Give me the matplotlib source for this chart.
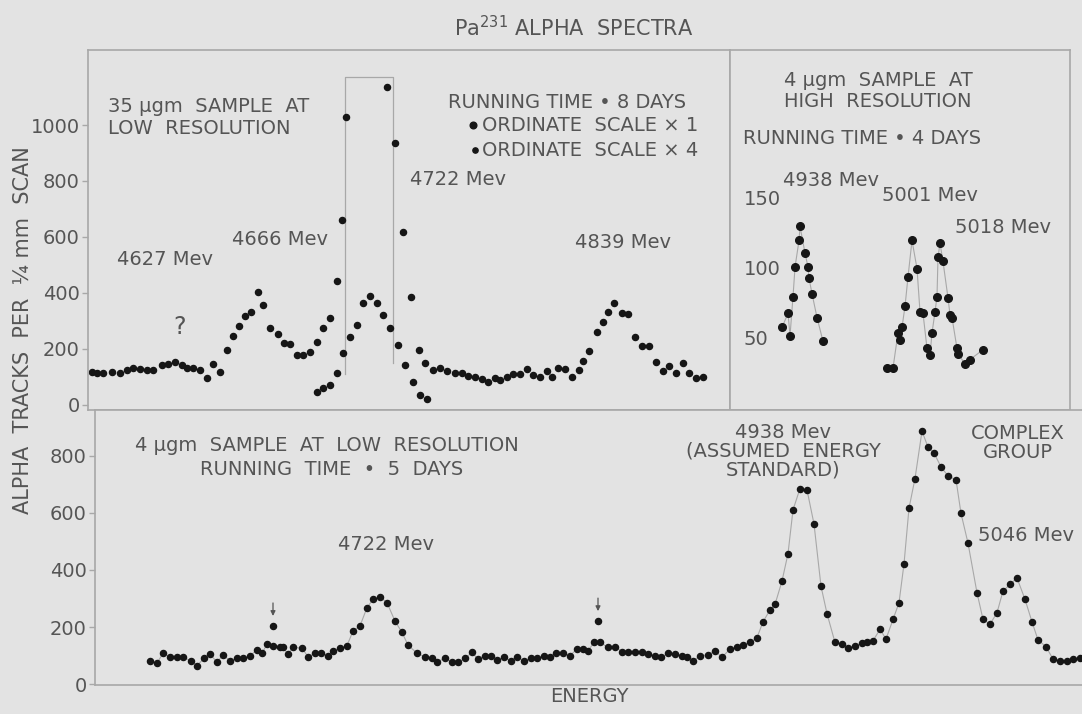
import numpy as np
import matplotlib.pyplot as plt

# --- top left: 35 ugm sample, low resolution (energy channel, tracks)
tl_x = [0.2, 0.7, 1.3, 2.2, 3.0, 3.7, 4.3, 5.0, 5.7, 6.3, 7.2, 7.8, 8.5, 9.2, 9.7,
        10.3, 11.0, 11.7, 12.3, 13.0, 13.7, 14.3, 14.9, 15.5, 16.1, 16.8, 17.3, 18.0,
        18.8, 19.4, 20.0, 20.7, 21.3, 22.0, 22.7, 23.3, 24.0, 24.7, 25.2, 25.6, 29.7,
        30.5, 31.3, 32.1, 32.9, 33.5, 34.3, 35.0, 35.7, 36.5, 37.2, 37.8, 38.5, 39.2,
        39.8, 40.5, 41.0, 41.7, 42.3, 43.0, 43.7, 44.3, 45.0, 45.7, 46.2, 46.8, 47.5,
        48.2, 48.9, 49.3, 49.9, 50.7, 51.3, 51.8, 52.4, 53.2, 53.8, 54.5, 55.2, 55.9,
        56.6, 57.3, 57.9, 58.6, 59.3, 59.9, 60.6, 61.3]
tl_y = [117, 113, 114, 118, 114, 125, 133, 129, 125, 125, 143, 145, 152, 143, 133,
        133, 125, 98, 145, 117, 196, 248, 283, 319, 333, 405, 357, 276,
        252, 220, 217, 179, 179, 190, 226, 276, 312, 443, 661, 1030, 1137,
        934, 617, 387, 196, 149, 125, 131, 121, 113, 113, 105, 101, 93,
        83, 95, 89, 101, 110, 110, 129, 107, 101, 121, 101, 131, 127,
        99, 125, 157, 193, 262, 297, 333, 363, 327, 324, 244, 212, 212,
        152, 121, 140, 113, 149, 115, 98, 101]
# same 4722 peak on the second ordinate scale
tl4_x = [22.7, 23.3, 24.0, 24.7, 25.3, 26.0, 26.7, 27.3, 28.0, 28.7, 29.3, 30.0,
         30.8, 31.5, 32.3, 33.0, 33.7]
tl4_y = [48, 60, 71, 113, 185, 244, 286, 363, 389, 363, 321, 274, 214, 143, 83, 36, 20]
tl_box_x = [25.5, 25.5, 30.3, 30.3]
tl_box_y = [110, 1171, 1171, 150]

# --- top right: 4 ugm sample, high resolution
tr1_x = [5.2, 5.8, 6.0, 6.3, 6.5, 6.9, 7.0, 7.5, 7.8, 7.9, 8.2, 8.7, 9.3]
tr1_y = [57, 67, 51, 79, 100, 119, 129, 110, 100, 92, 81, 64, 47]
tr2_x = [15.7, 16.3, 16.8, 17.0, 17.2, 17.5, 17.8, 18.2, 18.7, 19.0, 19.3, 19.7,
         20.0, 20.2, 20.5, 20.7, 20.8, 21.0, 21.3, 21.8, 22.0, 22.2, 22.7, 22.8,
         23.5, 24.0, 25.3]
tr2_y = [28, 28, 53, 48, 57, 72, 93, 119, 99, 68, 67, 42, 37, 53, 68, 79, 107, 117,
         104, 78, 66, 64, 42, 38, 31, 34, 41]

# --- bottom: 4 ugm sample, low resolution
bt_x = [5.5, 6.2, 6.8, 7.5, 8.2, 8.8, 9.6, 10.2, 10.9, 11.5, 12.2, 12.8, 13.5, 14.2,
        14.8, 15.5, 16.2, 16.7, 17.2, 17.8, 18.5, 18.8, 19.3, 19.8, 20.7, 21.3, 22.0,
        22.6, 23.3, 23.8, 24.5, 25.2, 25.8, 26.5, 27.2, 27.8, 28.5, 29.2, 30.0, 30.7,
        31.3, 32.2, 33.0, 33.7, 34.2, 35.0, 35.7, 36.3, 37.0, 37.7, 38.3, 39.0, 39.6,
        40.2, 40.9, 41.6, 42.2, 42.9, 43.6, 44.2, 44.9, 45.5, 46.1, 46.8, 47.5, 48.2,
        48.8, 49.3, 49.9, 50.5, 51.3, 52.0, 52.7, 53.3, 54.0, 54.7, 55.3, 56.0, 56.6,
        57.3, 58.0, 58.7, 59.2, 59.8, 60.5, 61.3, 62.0, 62.7, 63.5, 64.2, 64.8, 65.5,
        66.2, 66.8, 67.5, 68.0, 68.7, 69.3, 69.8, 70.5, 71.2, 71.9, 72.6, 73.2, 74.0,
        74.7, 75.3, 76.0, 76.7, 77.2, 77.8, 78.5, 79.1, 79.8, 80.4, 80.9, 81.4, 82.0,
        82.7, 83.3, 83.9, 84.6, 85.3, 86.1, 86.6, 87.3, 88.2, 88.8, 89.5, 90.2, 90.8,
        91.5, 92.2, 93.0, 93.7, 94.3, 95.1, 95.8, 96.5, 97.2, 97.8, 98.5]
bt_y = [82, 74, 108, 96, 94, 94, 82, 65, 90, 105, 77, 102, 82, 90,
        90, 100, 119, 108, 140, 135, 131, 129, 105, 129, 126, 96, 108,
        108, 100, 117, 126, 135, 186, 204, 268, 297, 306, 285, 221, 181,
        137, 108, 96, 90, 79, 90, 79, 77, 90, 111, 88, 100, 100,
        85, 94, 82, 96, 82, 90, 90, 100, 96, 108, 108, 100, 123,
        123, 117, 146, 146, 129, 131, 114, 114, 114, 111, 105, 100, 94,
        108, 105, 100, 96, 80, 100, 102, 117, 94, 123, 131, 137, 146,
        163, 218, 260, 279, 361, 457, 610, 685, 680, 561, 343, 247, 146,
        140, 126, 135, 143, 148, 152, 192, 158, 227, 285, 421, 616, 720,
        886, 830, 809, 761, 729, 716, 598, 494, 320, 227, 210, 250, 326,
        349, 372, 297, 218, 155, 131, 88, 82, 82, 88, 90]
# points marked with arrows
bt_mark_x = [17.8, 50.3]
bt_mark_y = [204, 221]

bg = '#e3e3e3'
ink = '#161616'
txt = '#555555'
frame = '#a8a8a8'
fs = 14

plt.rcParams['font.family'] = ['DejaVu Sans']
fig = plt.figure(figsize=(10.82, 7.14), dpi=100, facecolor=bg)

ax1 = fig.add_axes([0.0813, 0.4258, 0.5934, 0.5042], facecolor=bg)
ax2 = fig.add_axes([0.6747, 0.4258, 0.3142, 0.5042], facecolor=bg)
ax3 = fig.add_axes([0.0878, 0.0406, 0.9122, 0.3852], facecolor=bg)

for ax in (ax1, ax2, ax3):
    for s in ax.spines.values():
        s.set_color(frame)
        s.set_linewidth(1.2)
    ax.set_xticks([])
    ax.tick_params(axis='y', colors=frame, labelcolor=txt, labelsize=fs, length=4,
                   width=1, pad=2)
ax3.spines['right'].set_visible(False)

# top left
ax1.set_xlim(-0.2, 64)
ax1.set_ylim(-18, 1268)
ax1.set_yticks([0, 200, 400, 600, 800, 1000])
ax1.plot(tl_box_x, tl_box_y, color=frame, lw=0.9)
ax1.plot(tl_x, tl_y, 'o', color=ink, ms=4.4)
ax1.plot(tl4_x, tl4_y, 'o', color=ink, ms=4.4)
ax1.text(1.8, 1100, '35 \u03bcgm  SAMPLE  AT\nLOW  RESOLUTION', color=txt, fontsize=fs,
         va='top', linespacing=1.2)
ax1.text(2.7, 500, '4627 Mev', color=txt, fontsize=fs)
ax1.text(14.2, 570, '4666 Mev', color=txt, fontsize=fs)
ax1.text(8.3, 255, '?', color=txt, fontsize=fs + 3)
ax1.text(32.0, 785, '4722 Mev', color=txt, fontsize=fs)
ax1.text(48.5, 560, '4839 Mev', color=txt, fontsize=fs)
ax1.text(35.8, 1080, 'RUNNING TIME \u2022 8 DAYS', color=txt, fontsize=fs, va='center')
ax1.plot([38.3], [1000], 'o', color=ink, ms=4.8)
ax1.plot([38.5], [910], 'o', color=ink, ms=3.8)
ax1.text(39.2, 1000, 'ORDINATE  SCALE \u00d7 1', color=txt, fontsize=fs, va='center')
ax1.text(39.2, 910, 'ORDINATE  SCALE \u00d7 4', color=txt, fontsize=fs, va='center')

# top right
ax2.set_xlim(0, 34)
ax2.set_ylim(-2, 255)
ax2.set_yticks([50, 100, 150])
ax2.tick_params(axis='y', length=0, pad=-10)
for lab in ax2.get_yticklabels():
    lab.set_ha('left')
ax2.plot(tr1_x, tr1_y, '-', color=frame, lw=0.8)
ax2.plot(tr2_x, tr2_y, '-', color=frame, lw=0.8)
ax2.plot(tr1_x, tr1_y, 'o', color=ink, ms=5.5)
ax2.plot(tr2_x, tr2_y, 'o', color=ink, ms=5.5)
ax2.text(14.8, 240, '4 \u03bcgm  SAMPLE  AT\nHIGH  RESOLUTION', color=txt, fontsize=fs,
         ha='center', va='top', linespacing=1.15)
ax2.text(1.3, 192, 'RUNNING TIME \u2022 4 DAYS', color=txt, fontsize=fs, va='center')
ax2.text(5.3, 162, '4938 Mev', color=txt, fontsize=fs, va='center')
ax2.text(15.2, 151, '5001 Mev', color=txt, fontsize=fs, va='center')
ax2.text(22.5, 128, '5018 Mev', color=txt, fontsize=fs, va='center')

# bottom
ax3.set_xlim(0, 98.7)
ax3.set_ylim(-3, 960)
ax3.set_yticks([0, 200, 400, 600, 800])
ax3.plot(bt_x, bt_y, '-', color=frame, lw=0.8)
ax3.plot(bt_x, bt_y, 'o', color=ink, ms=4.4)
ax3.plot(bt_mark_x, bt_mark_y, 'o', color=ink, ms=4.4)
for mx, my in zip(bt_mark_x, bt_mark_y):
    ax3.annotate('', xy=(mx, my + 25), xytext=(mx, my + 90),
                 arrowprops=dict(arrowstyle='-|>', color=txt, lw=0.9, mutation_scale=7))
ax3.text(4.0, 835, '4 \u03bcgm  SAMPLE  AT  LOW  RESOLUTION', color=txt, fontsize=fs, va='center')
ax3.text(10.5, 750, 'RUNNING  TIME  \u2022  5  DAYS', color=txt, fontsize=fs, va='center')
ax3.text(24.3, 490, '4722 Mev', color=txt, fontsize=fs, va='center')
ax3.text(68.8, 815, '4938 Mev\n(ASSUMED  ENERGY\nSTANDARD)', color=txt, fontsize=fs,
         ha='center', va='center', linespacing=1.0)
ax3.text(92.3, 843, 'COMPLEX\nGROUP', color=txt, fontsize=fs, ha='center', va='center',
         linespacing=1.0)
ax3.text(88.3, 520, '5046 Mev', color=txt, fontsize=fs, va='center')

fig.text(0.545, 0.024, 'ENERGY', color=txt, fontsize=fs, ha='center', va='center')
fig.text(0.53, 0.962, 'Pa$^{231}$ ALPHA  SPECTRA', color=txt, fontsize=fs + 1,
         ha='center', va='center')
fig.text(0.021, 0.538, 'ALPHA  TRACKS  PER  \u00bc mm  SCAN', color=txt, fontsize=fs + 1,
         rotation=90, ha='center', va='center')

fig.savefig('out.png', dpi=100, facecolor=bg)
